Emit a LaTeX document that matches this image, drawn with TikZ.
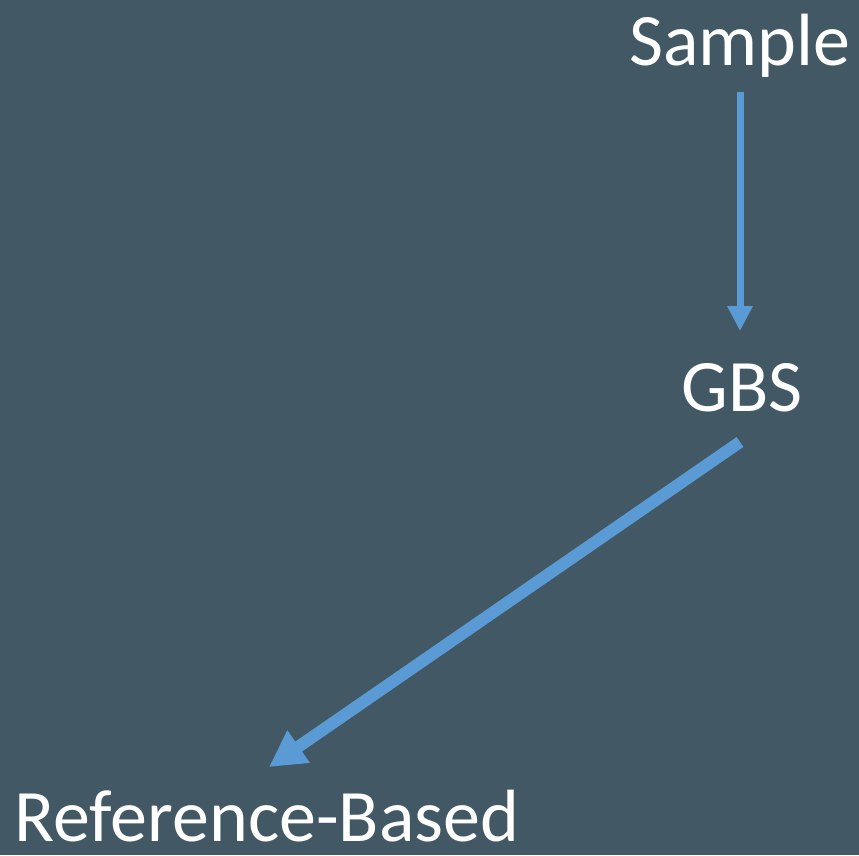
\documentclass[tikz,border=0pt]{standalone}
\usepackage{fontspec}
\setmainfont{Carlito}
\usepackage{tikz}
\usetikzlibrary{arrows.meta}
\definecolor{slatebg}{RGB}{66,89,101}
\definecolor{arrowblue}{RGB}{91,155,213}

\begin{document}
\begin{tikzpicture}[
  x=1pt,y=-1pt,
  every node/.style={font=\fontsize{74}{80}\selectfont,text=white,inner sep=0pt,anchor=base},
  arr/.style={draw=arrowblue,line width=7pt,-{Triangle[length=25pt,width=24pt]}},
  bigarr/.style={draw=arrowblue,line width=12pt,-{Triangle[length=36pt,width=37pt]}}
]
\useasboundingbox (0,0) rectangle (859,855);
\fill[slatebg] (0,0) rectangle (859,855);
\node (sample) at (740,65) {Sample};
\node (gbs) at (742,411) {GBS};
\node (refbased) at (267,841) {Reference-Based};
\coordinate (sample-out) at ([yshift=-27pt]sample.base);
\coordinate (gbs-in) at ([shift={(-2pt,80pt)}]gbs.base);
\coordinate (gbs-out) at ([shift={(-2pt,-31pt)}]gbs.base);
\coordinate (ref-in) at ([shift={(2pt,74pt)}]refbased.base);
\draw[arr] (sample-out)--(gbs-in);
\draw[bigarr] (gbs-out)--(ref-in);
\end{tikzpicture}
\end{document}
